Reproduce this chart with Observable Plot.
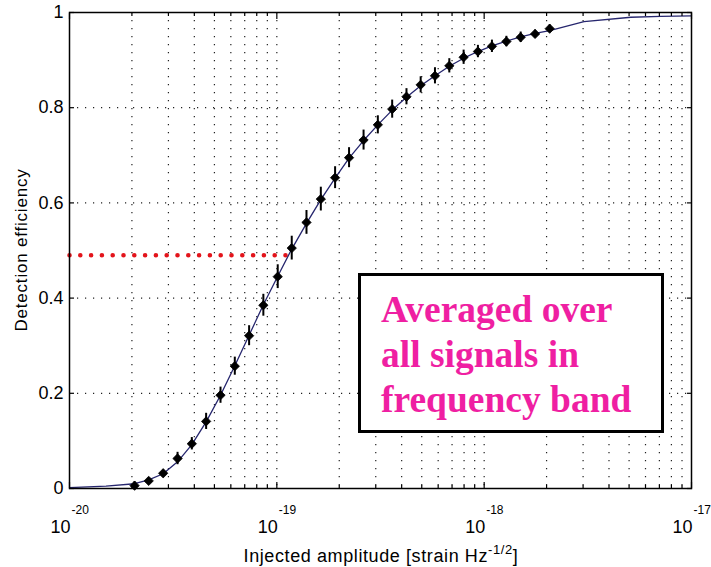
<!DOCTYPE html>
<html>
<head>
<meta charset="utf-8">
<script src="https://cdn.jsdelivr.net/npm/d3@7"></script>
<script src="https://cdn.jsdelivr.net/npm/@observablehq/plot@0.6"></script>
<style>
  body { margin: 0; background: #fff; }
  #chart svg { display: block; }
</style>
</head>
<body>
<div id="chart"></div>
<script>
// ---- data ----
const ampX = [2.06e-20, 2.41e-20, 2.83e-20, 3.32e-20, 3.89e-20, 4.56e-20, 5.35e-20, 6.27e-20, 7.35e-20, 8.61e-20,
              1.01e-19, 1.18e-19, 1.39e-19, 1.63e-19, 1.91e-19, 2.23e-19, 2.62e-19, 3.07e-19, 3.60e-19, 4.22e-19,
              4.94e-19, 5.79e-19, 6.79e-19, 7.96e-19, 9.33e-19, 1.09e-18, 1.28e-18, 1.50e-18, 1.76e-18, 2.07e-18];
const effY = [0.006, 0.016, 0.032, 0.063, 0.094, 0.141, 0.196, 0.257, 0.321, 0.385,
              0.445, 0.505, 0.559, 0.608, 0.653, 0.695, 0.732, 0.764, 0.797, 0.823,
              0.848, 0.867, 0.888, 0.906, 0.918, 0.929, 0.939, 0.948, 0.955, 0.966];
const effErr = [0.008, 0.006, 0.006, 0.013, 0.013, 0.017, 0.017, 0.019, 0.021, 0.023,
                0.025, 0.025, 0.025, 0.025, 0.023, 0.021, 0.021, 0.019, 0.019, 0.017,
                0.017, 0.017, 0.015, 0.015, 0.013, 0.013, 0.011, 0.011, 0.008, 0.008];

const fitX = [1e-20, 1.5e-20, 2.06e-20, 2.41e-20, 2.83e-20, 3.32e-20, 3.89e-20, 4.56e-20, 5.35e-20, 6.27e-20,
              7.35e-20, 8.61e-20, 1.01e-19, 1.18e-19, 1.39e-19, 1.63e-19, 1.91e-19, 2.23e-19, 2.62e-19, 3.07e-19,
              3.60e-19, 4.22e-19, 4.94e-19, 5.79e-19, 6.79e-19, 7.96e-19, 9.33e-19, 1.09e-18, 1.28e-18, 1.50e-18,
              1.76e-18, 2.07e-18, 3.03e-18, 5.1e-18, 7.1e-18, 1e-17];
const fitY = [0.002, 0.005, 0.010, 0.018, 0.031, 0.056, 0.092, 0.140, 0.196, 0.258,
              0.322, 0.386, 0.446, 0.503, 0.557, 0.607, 0.652, 0.694, 0.731, 0.764,
              0.795, 0.822, 0.846, 0.867, 0.887, 0.904, 0.918, 0.930, 0.940, 0.949,
              0.956, 0.962, 0.981, 0.990, 0.992, 0.993];

const thresholdX = [1e-20, 1.103e-19];
const thresholdY = [0.49, 0.49];

const yTicks = [0, 0.2, 0.4, 0.6, 0.8, 1];
const yTickLabels = ["0", "0.2", "0.4", "0.6", "0.8", "1"];
const decades = [1e-20, 1e-19, 1e-18, 1e-17];
const decadeExp = ["-20", "-19", "-18", "-17"];
const minorX = [2e-20, 3e-20, 4e-20, 5e-20, 6e-20, 7e-20, 8e-20, 9e-20,
                2e-19, 3e-19, 4e-19, 5e-19, 6e-19, 7e-19, 8e-19, 9e-19,
                2e-18, 3e-18, 4e-18, 5e-18, 6e-18, 7e-18, 8e-18, 9e-18];
const gridXValues = [...minorX, 1e-19, 1e-18];
const gridYValues = [0.2, 0.4, 0.6, 0.8];

const xTitle = "Injected amplitude [strain Hz";
const xTitleSup = "-1/2";
const yTitle = "Detection efficiency";
const noteLines = ["Averaged over", "all signals in", "frequency band"];

// ---- tables ----
const points = ampX.map((x, i) => ({x, y: effY[i], e: effErr[i]}));
const fit = fitX.map((x, i) => ({x, y: fitY[i]}));
const thr = thresholdX.map((x, i) => ({x, y: thresholdY[i]}));

const font = "Liberation Sans, Arial, sans-serif";
const dotted = {stroke: "#222", strokeWidth: 1.2, strokeDasharray: "1.2 6.8"};

const plot = Plot.plot({
  width: 711,
  height: 567,
  marginLeft: 69,
  marginRight: 20,
  marginTop: 12,
  marginBottom: 79,
  style: {fontFamily: font, background: "#fff", color: "#000"},
  x: {type: "log", domain: [1e-20, 1e-17], axis: null},
  y: {domain: [0, 1], axis: null},
  marks: [
    Plot.ruleX(gridXValues, {...dotted}),
    Plot.ruleY(gridYValues, {...dotted}),
    Plot.line(thr, {x: "x", y: "y", stroke: "#e3141b", strokeWidth: 4.6, strokeDasharray: "0 10.8", strokeLinecap: "round"}),
    Plot.line(fit, {x: "x", y: "y", stroke: "#26266e", strokeWidth: 1.3}),
    Plot.ruleX(points, {x: "x", y1: d => d.y - d.e, y2: d => d.y + d.e, stroke: "#000", strokeWidth: 2}),
    Plot.dot(points, {x: "x", y: "y", symbol: "diamond2", r: 4.2, fill: "#000", stroke: "#000", strokeWidth: 0.8}),
    Plot.frame({stroke: "#000", strokeWidth: 1.5}),
    // inward ticks on all four sides
    Plot.axisY(yTicks, {anchor: "left", tickSize: -5, tickFormat: () => "", label: null, strokeWidth: 1.2}),
    Plot.axisY(yTicks, {anchor: "right", tickSize: -5, tickFormat: () => "", label: null, strokeWidth: 1.2}),
    Plot.axisX(decades, {anchor: "bottom", tickSize: -6, tickFormat: () => "", label: null, strokeWidth: 1.2}),
    Plot.axisX(minorX, {anchor: "bottom", tickSize: -3, tickFormat: () => "", label: null, strokeWidth: 1.2}),
    Plot.axisX(decades, {anchor: "top", tickSize: -6, tickFormat: () => "", label: null, strokeWidth: 1.2}),
    Plot.axisX(minorX, {anchor: "top", tickSize: -3, tickFormat: () => "", label: null, strokeWidth: 1.2}),
    // tick labels
    Plot.axisY(yTicks, {anchor: "left", tickSize: 0, tickPadding: 6, fontSize: 18, label: null,
      tickFormat: d => yTickLabels[yTicks.indexOf(d)]}),
    Plot.text(decades, {x: d => d, frameAnchor: "bottom", text: () => "10", textAnchor: "end", lineAnchor: "bottom", dx: 1, dy: 44, fontSize: 18}),
    Plot.text(decades, {x: d => d, frameAnchor: "bottom", text: (d, i) => decadeExp[decades.indexOf(d)], textAnchor: "start", lineAnchor: "bottom", dx: 2, dy: 25, fontSize: 12})
  ]
});

document.getElementById("chart").appendChild(plot);

// titles and the annotation box
const svg = d3.select(plot);
const xt = svg.append("text")
  .attr("x", 381).attr("y", 562)
  .attr("text-anchor", "middle")
  .attr("font-family", font).attr("font-size", 18).attr("letter-spacing", 0.6).attr("fill", "#000");
xt.append("tspan").text(xTitle);
xt.append("tspan").attr("dy", -8).attr("font-size", 13).text(xTitleSup);
xt.append("tspan").attr("dy", 8).text("]");

svg.append("text")
  .attr("transform", "translate(27,250) rotate(-90)")
  .attr("text-anchor", "middle")
  .attr("font-family", font).attr("font-size", 17).attr("letter-spacing", 0.8).attr("fill", "#000")
  .text(yTitle);

const g = svg.append("g").attr("text-anchor", "start");
g.append("rect").attr("x", 359.5).attr("y", 274.5).attr("width", 303).attr("height", 157)
  .attr("fill", "#fff").attr("stroke", "#000").attr("stroke-width", 3);
noteLines.forEach((t, i) => {
  g.append("text").attr("x", 381).attr("y", 322 + i * 44.8)
    .attr("text-anchor", "start")
    .attr("font-family", "Liberation Serif, Times New Roman, serif")
    .attr("font-weight", "bold").attr("font-size", 37.5).attr("fill", "#ef1fa2")
    .text(t);
});
</script>
</body>
</html>
